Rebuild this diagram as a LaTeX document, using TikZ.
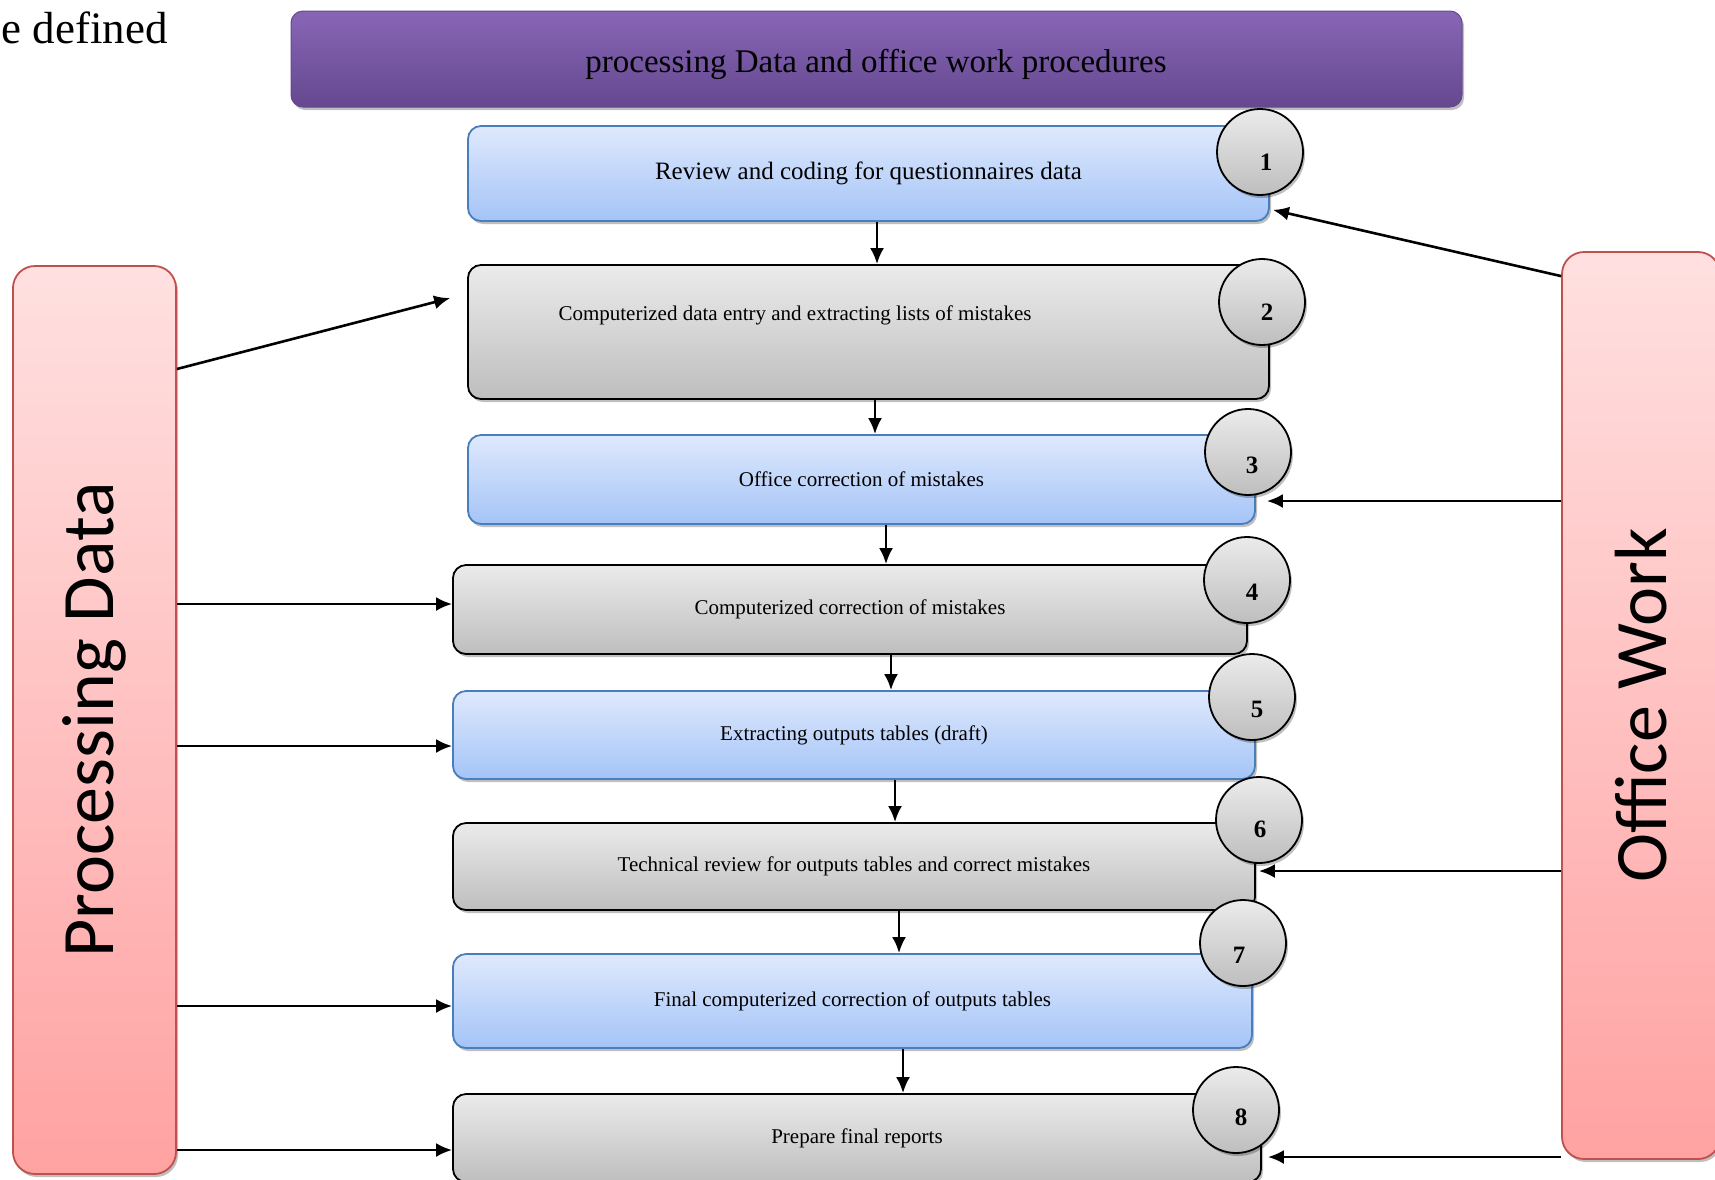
\documentclass[tikz,border=0pt]{standalone}
\usepackage{fontspec}
\setmainfont{Liberation Serif}
\newfontfamily\sidefont{Carlito}
\usetikzlibrary{arrows.meta,calc,shadows}

\definecolor{blueTop}{HTML}{DFE9FD}
\definecolor{blueBot}{HTML}{A4C4F7}
\definecolor{blueEdge}{HTML}{4A7EBB}
\definecolor{grayTop}{HTML}{EBEBEB}
\definecolor{grayBot}{HTML}{BEBEBE}
\definecolor{pinkTop}{HTML}{FFE0E0}
\definecolor{pinkBot}{HTML}{FFA2A2}
\definecolor{pinkEdge}{HTML}{C0504D}
\definecolor{purpleTop}{HTML}{8866B6}
\definecolor{purpleBot}{HTML}{65488F}

\begin{document}
\begin{tikzpicture}[x=1pt, y=-1pt,
  shade/.style={drop shadow={shadow xshift=2pt, shadow yshift=-3pt, opacity=.25, fill=black}},
  bluebox/.style={shade, draw=blueEdge, line width=1.8pt, rounded corners=13pt, top color=blueTop, bottom color=blueBot, inner sep=0pt, font=\fontsize{21}{25}\selectfont},
  graybox/.style={shade, draw=black, line width=1.8pt, rounded corners=13pt, top color=grayTop, bottom color=grayBot, inner sep=0pt, font=\fontsize{21}{25}\selectfont},
  sidebox/.style={shade, draw=pinkEdge, line width=1.8pt, rounded corners=22pt, top color=pinkTop, bottom color=pinkBot, inner sep=0pt},
  numcirc/.style={shade, circle, draw=black, line width=1.8pt, top color=grayTop, bottom color=grayBot, minimum size=86pt, inner sep=0pt},
  numlbl/.style={font=\fontsize{25}{25}\selectfont\bfseries, inner sep=0pt},
  arr/.style={line width=2.6pt, -{Latex[length=16pt,width=14pt]}}]
% Set the page size
\useasboundingbox (0,0) rectangle (1715,1179);

\node[anchor=base east, font=\fontsize{45}{50}\selectfont, inner sep=0pt] (cut) at (168,43) {e defined};

% Title bar
\node[shade, draw=purpleBot, line width=1pt, rounded corners=12pt, top color=purpleTop, bottom color=purpleBot, minimum width=1171pt, minimum height=96pt] (title) at (876.5,59) {};
\node[font=\fontsize{33}{36}\selectfont] (ttxt) at (876,64) {processing Data and office work procedures};

% Side boxes
\node[sidebox, minimum width=163pt, minimum height=908pt] (L) at (94.5,720) {};
\node[sidebox, minimum width=158pt, minimum height=907pt] (R) at (1641,705.5) {};
\node[rotate=90, font=\sidefont\fontsize{74}{80}\selectfont] (Ltxt) at (L.center) {Processing Data};
\node[rotate=90, font=\sidefont\fontsize{74}{80}\selectfont] (Rtxt) at (R.center) {Office Work};

% Draw the boxes and insert the texts
\node[bluebox, minimum width=801pt, minimum height=95pt, font=\fontsize{25}{28}\selectfont] (b1) at (868.5,173.5) {Review and coding for questionnaires data};
\node[graybox, minimum width=801pt, minimum height=134pt] (b2) at (868.5,332) {};
\node[font=\fontsize{21}{25}\selectfont] (t2) at (795,315) {Computerized data entry and extracting lists of mistakes};
\node[bluebox, minimum width=787pt, minimum height=89pt] (b3) at (861.5,479.5) {Office correction of mistakes};
\node[graybox, minimum width=794pt, minimum height=89pt] (b4) at (850,609.5) {Computerized correction of mistakes};
\node[bluebox, minimum width=802pt, minimum height=88pt] (b5) at (854,735) {Extracting outputs tables (draft)};
\node[graybox, minimum width=802pt, minimum height=87pt] (b6) at (854,866.5) {Technical review for outputs tables and correct mistakes};
\node[bluebox, minimum width=799pt, minimum height=94pt] (b7) at (852.5,1001) {Final computerized correction of outputs tables};
\node[graybox, minimum width=808pt, minimum height=88pt] (b8) at (857,1138) {Prepare final reports};

% Numbered circles
\node[numcirc] (c1) at (1260,152) {};
\node[numlbl] (n1) at (1266,162) {1};
\node[numcirc] (c2) at (1262,302) {};
\node[numlbl] (n2) at (1267,312) {2};
\node[numcirc] (c3) at (1248,452) {};
\node[numlbl] (n3) at (1252,465) {3};
\node[numcirc] (c4) at (1247,580) {};
\node[numlbl] (n4) at (1252,592) {4};
\node[numcirc] (c5) at (1252,697) {};
\node[numlbl] (n5) at (1257,709) {5};
\node[numcirc] (c6) at (1259,820) {};
\node[numlbl] (n6) at (1260,829) {6};
\node[numcirc] (c7) at (1243,943) {};
\node[numlbl] (n7) at (1239,955) {7};
\node[numcirc] (c8) at (1236,1110) {};
\node[numlbl] (n8) at (1241,1117) {8};

% Arrows down the steps
\draw[arr] ($(b1.south)+(8.5,0)$) -- ($(b2.north)+(8.5,0)$);
\draw[arr] ($(b2.south)+(6.5,0)$) -- ($(b3.north)+(13.5,0)$);
\draw[arr] ($(b3.south)+(24.5,0)$) -- ($(b4.north)+(36,0)$);
\draw[arr] ($(b4.south)+(41,0)$) -- ($(b5.north)+(37,0)$);
\draw[arr] ($(b5.south)+(41,0)$) -- ($(b6.north)+(41,0)$);
\draw[arr] ($(b6.south)+(45,0)$) -- ($(b7.north)+(46.5,0)$);
\draw[arr] ($(b7.south)+(50.5,0)$) -- ($(b8.north)+(46,0)$);

% Arrows from Processing Data
\draw[arr] (L.east |- 0,369) -- ($(b2.north west)+(-17,34)$);
\draw[arr] (L.east |- 0,604) -- (b4.west |- 0,604);
\draw[arr] (L.east |- 0,746) -- (b5.west |- 0,746);
\draw[arr] (L.east |- 0,1006) -- (b7.west |- 0,1006);
\draw[arr] (L.east |- 0,1150) -- (b8.west |- 0,1150);

% Arrows from Office Work
\draw[arr] ($(R.north west)+(0,25)$) -- ($(b1.south east)+(3,-12)$);
\draw[arr] (R.west |- 0,501) -- ($(b3.east |- 0,501)+(11,0)$);
\draw[arr] (R.west |- 0,871) -- ($(b6.east |- 0,871)+(3,0)$);
\draw[arr] (R.west |- 0,1157) -- ($(b8.east |- 0,1157)+(6,0)$);
\end{tikzpicture}
\end{document}
